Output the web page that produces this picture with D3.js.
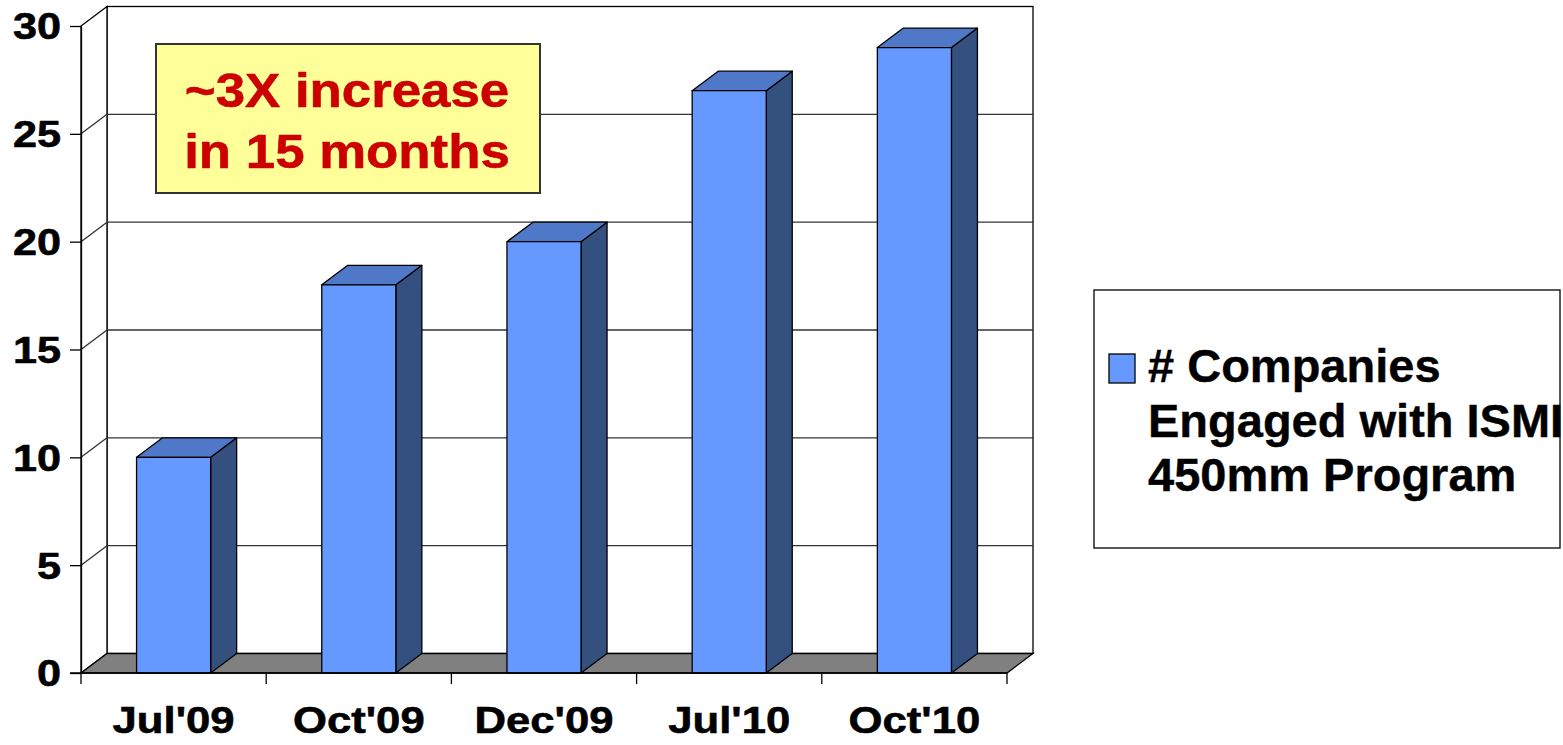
<!DOCTYPE html>
<html>
<head>
<meta charset="utf-8">
<script src="https://cdn.jsdelivr.net/npm/d3@7"></script>
<style>
  html, body { margin: 0; padding: 0; background: #fff; }
  svg { display: block; }
  text { font-family: "Liberation Sans", Arial, sans-serif; font-weight: bold; }
</style>
</head>
<body>
<script>
// ---- data ----
const categories = ["Jul'09", "Oct'09", "Dec'09", "Jul'10", "Oct'10"];
const values = [10, 18, 20, 27, 29];
const yTicks = [0, 5, 10, 15, 20, 25, 30];
const legendLines = ["# Companies", "Engaged with ISMI", "450mm Program"];
const noteLines = ["~3X increase", "in 15 months"];

// ---- layout ----
const W = 1563, H = 745;
const front = { left: 81, right: 1007, top: 26, bottom: 673 };
const depth = { dx: 26, dy: -19.5 };
const colors = { front: "#6699ff", top: "#4f78c8", side: "#34507f", floor: "#808080", grid: "#333333" };

const svg = d3.select("body").append("svg").attr("width", W).attr("height", H);

const y = d3.scaleLinear().domain([0, 30]).range([front.bottom, front.top]);
const xCat = d3.scaleBand().domain(categories).range([front.left, front.right]).padding(0);
const xBar = d3.scaleBand().domain(categories).range([front.left, front.right]).paddingInner(0.6).paddingOuter(0.3);

function stretch(sel, k) {
  sel.each(function () {
    const w = this.getComputedTextLength();
    this.setAttribute("textLength", w * k);
    this.setAttribute("lengthAdjust", "spacingAndGlyphs");
  });
}
function heavier(sel, color, w) {
  sel.attr("stroke", color).attr("stroke-width", w).attr("stroke-linejoin", "round");
}

const bx = front.left + depth.dx, bRight = front.right + depth.dx;
const yb = v => y(v) + depth.dy;

// back wall
svg.append("rect")
  .attr("x", bx).attr("y", yb(30))
  .attr("width", bRight - bx).attr("height", yb(0) - yb(30))
  .attr("fill", "#fff").attr("stroke", "#000").attr("stroke-width", 1.3);
// left wall
svg.append("polygon")
  .attr("points", [[front.left, y(30)], [bx, yb(30)], [bx, yb(0)], [front.left, y(0)]].map(p => p.join(",")).join(" "))
  .attr("fill", "#fff").attr("stroke", "#000").attr("stroke-width", 1.3);

// gridlines (back wall + left wall)
const grid = svg.append("g").attr("stroke", colors.grid).attr("stroke-width", 1.3).attr("fill", "none");
grid.selectAll("line.gb").data(yTicks.filter(v => v > 0 && v < 30)).join("line")
  .attr("x1", bx).attr("x2", bRight).attr("y1", d => yb(d)).attr("y2", d => yb(d));
grid.selectAll("line.gl").data(yTicks.filter(v => v > 0 && v < 30)).join("line")
  .attr("x1", front.left).attr("x2", bx).attr("y1", d => y(d)).attr("y2", d => yb(d));

// floor
svg.append("polygon")
  .attr("points", [[front.left, y(0)], [bx, yb(0)], [bRight, yb(0)], [front.right, y(0)]].map(p => p.join(",")).join(" "))
  .attr("fill", colors.floor).attr("stroke", "#000").attr("stroke-width", 1.3);

// bars
const bars = svg.append("g").selectAll("g").data(categories.map((c, i) => ({ c, v: values[i] }))).join("g")
  .attr("stroke", "#000").attr("stroke-width", 1.3).attr("stroke-linejoin", "round");
bars.append("polygon") // side
  .attr("fill", colors.side)
  .attr("points", d => {
    const x1 = xBar(d.c) + xBar.bandwidth();
    return [[x1, y(d.v)], [x1 + depth.dx, yb(d.v)], [x1 + depth.dx, yb(0)], [x1, y(0)]].map(p => p.join(",")).join(" ");
  });
bars.append("polygon") // top
  .attr("fill", colors.top)
  .attr("points", d => {
    const x0 = xBar(d.c), x1 = x0 + xBar.bandwidth();
    return [[x0, y(d.v)], [x1, y(d.v)], [x1 + depth.dx, yb(d.v)], [x0 + depth.dx, yb(d.v)]].map(p => p.join(",")).join(" ");
  });
bars.append("rect") // front
  .attr("fill", colors.front)
  .attr("x", d => xBar(d.c)).attr("y", d => y(d.v))
  .attr("width", xBar.bandwidth()).attr("height", d => y(0) - y(d.v));

// y axis
const yAxis = svg.append("g").attr("transform", `translate(${front.left},0)`)
  .call(d3.axisLeft(y).tickValues(yTicks).tickSize(11).tickSizeOuter(0).tickPadding(9));
yAxis.select(".domain").attr("stroke", "#000").attr("stroke-width", 1.3);
yAxis.selectAll(".tick line").attr("stroke", "#000").attr("stroke-width", 1.3);
yAxis.selectAll("text").attr("font-size", 36).attr("fill", "#000").attr("dy", "0.36em");
stretch(yAxis.selectAll("text"), 1.2);
heavier(yAxis.selectAll("text"), "#000", 0.6);

// x axis labels
const xAxis = svg.append("g").attr("transform", `translate(0,${front.bottom})`)
  .call(d3.axisBottom(xCat).tickSize(0).tickPadding(34));
xAxis.select(".domain").remove();
xAxis.selectAll("text").attr("font-size", 37).attr("fill", "#000");
stretch(xAxis.selectAll("text"), 1.18);
heavier(xAxis.selectAll("text"), "#000", 0.6);
// x boundary ticks
const bounds = categories.map(c => xCat(c)).concat([front.right]);
svg.append("g").selectAll("line").data(bounds).join("line")
  .attr("x1", d => d).attr("x2", d => d)
  .attr("y1", front.bottom).attr("y2", front.bottom + 11)
  .attr("stroke", "#000").attr("stroke-width", 1.3);
svg.append("line").attr("x1", front.left - 11).attr("x2", front.right)
  .attr("y1", front.bottom).attr("y2", front.bottom).attr("stroke", "#000").attr("stroke-width", 1.3);

// annotation box
const note = svg.append("g");
note.append("rect").attr("x", 156).attr("y", 44).attr("width", 384).attr("height", 149)
  .attr("fill", "#ffff99").attr("stroke", "#333").attr("stroke-width", 2);
const noteText = note.selectAll("text").data(noteLines).join("text")
  .attr("x", 347).attr("y", (d, i) => 107 + i * 61)
  .attr("text-anchor", "middle").attr("font-size", 48).attr("fill", "#cc0000")
  .text(d => d);
stretch(noteText, 1.1);
heavier(noteText, "#cc0000", 0.6);

// legend
const lg = svg.append("g");
lg.append("rect").attr("x", 1094).attr("y", 290).attr("width", 466).attr("height", 258)
  .attr("fill", "#fff").attr("stroke", "#000").attr("stroke-width", 1.3);
lg.append("rect").attr("x", 1109).attr("y", 354).attr("width", 26).attr("height", 29)
  .attr("fill", colors.front).attr("stroke", "#000").attr("stroke-width", 1.3);
const lgText = lg.selectAll("text.l").data(legendLines).join("text")
  .attr("x", 1148).attr("y", (d, i) => 382 + i * 54.5)
  .attr("font-size", 47).attr("fill", "#000")
  .text(d => d);
heavier(lgText, "#000", 0.4);
</script>
</body>
</html>
